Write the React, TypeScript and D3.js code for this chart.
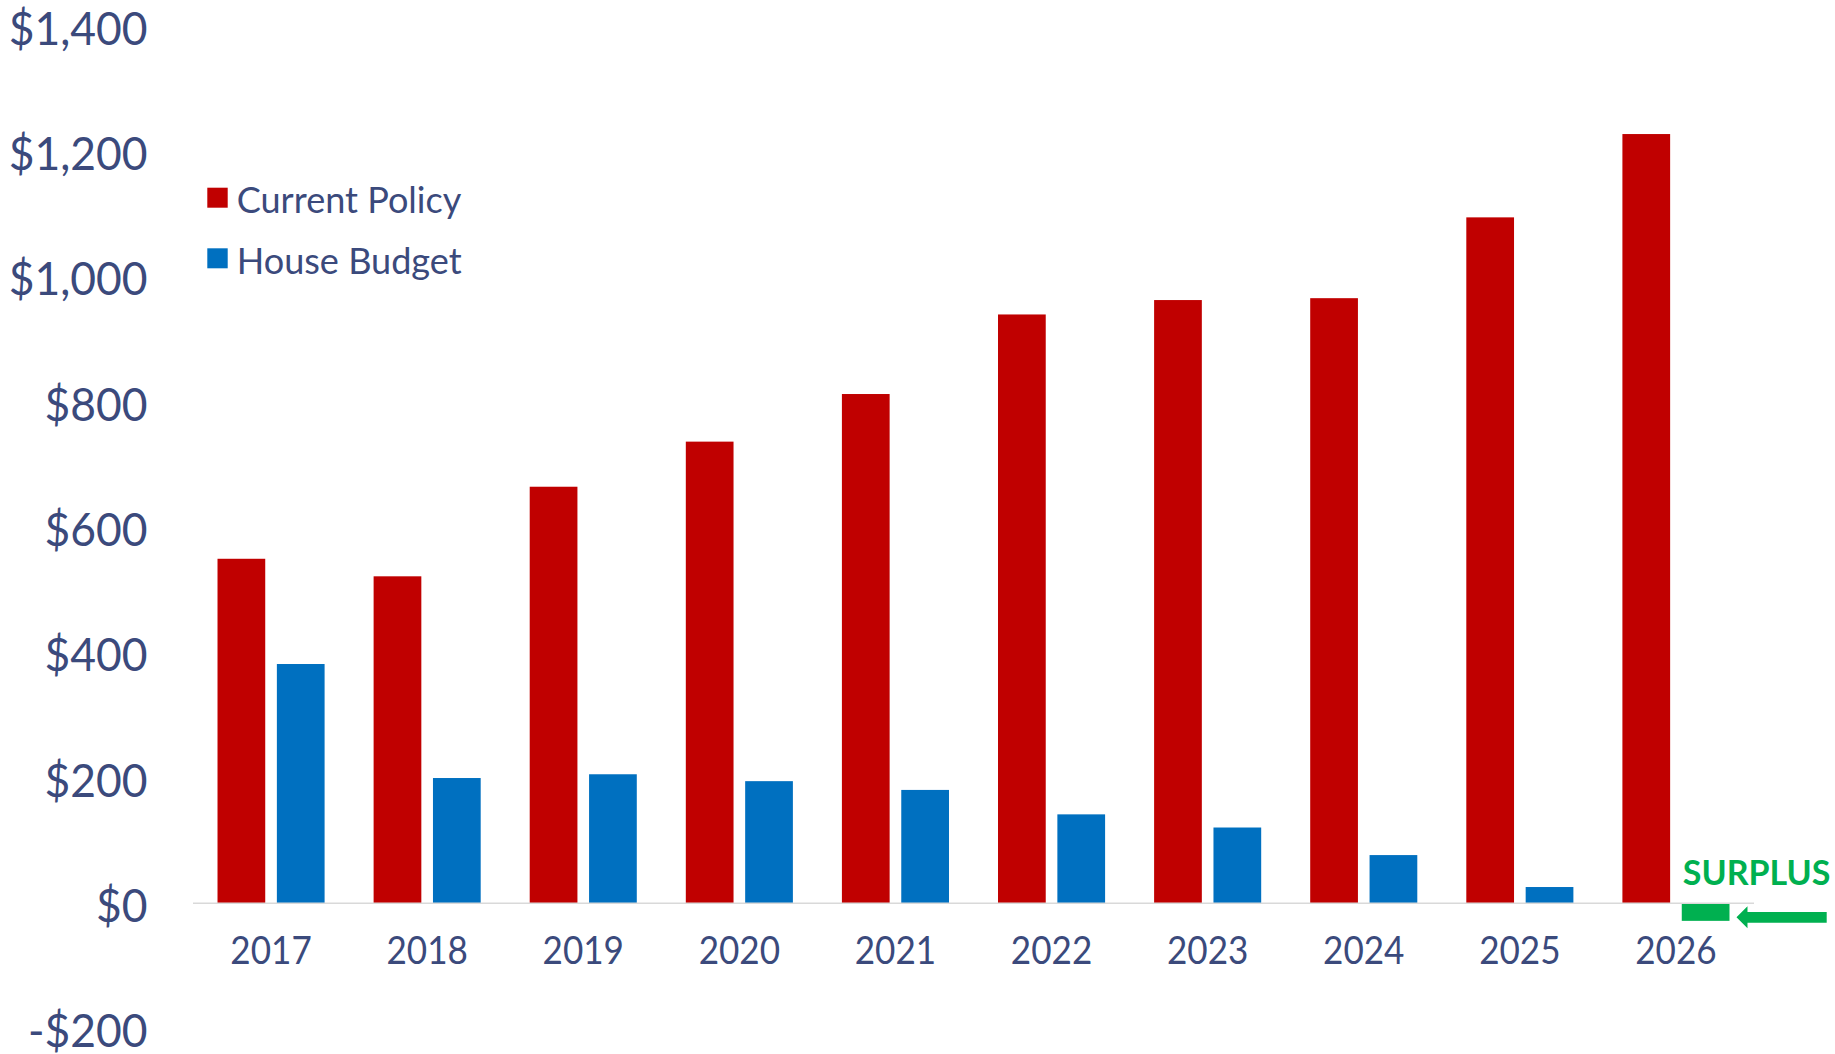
import React from "react";
import * as d3 from "d3";

const years = ["2017", "2018", "2019", "2020", "2021", "2022", "2023", "2024", "2025", "2026"];
const currentPolicy = [550, 522, 665, 737, 813, 940, 963, 966, 1095, 1228];
const houseBudget = [382, 200, 206, 195, 181, 142, 121, 77, 26, -28];
const yTicks = [-200, 0, 200, 400, 600, 800, 1000, 1200, 1400];
const seriesNames = ["Current Policy", "House Budget"];

const W = 1835;
const H = 1054;
const RED = "#C00000";
const BLUE = "#0070C0";
const GREEN = "#00B050";
const TEXT = "#3b4a7c";
const FONT = "Lato, 'Open Sans', sans-serif";

function SText(props: {
  x: number; y: number; size: number; anchor?: string; weight?: string | number;
  fill?: string; sx: number; children: React.ReactNode;
}) {
  const { x, y, size, anchor = "start", weight = "normal", fill = TEXT, sx, children } = props;
  return (
    <text
      transform={`translate(${x},${y}) scale(${sx},1)`}
      textAnchor={anchor as any}
      fontSize={size}
      fontWeight={weight as any}
      fill={fill}
      fontFamily={FONT}
    >
      {children}
    </text>
  );
}

export default function App() {
  const y = d3.scaleLinear().domain([-200, 1400]).range([1028.6, 26.3]);
  const x = d3.scaleBand<string>().domain(years).range([193, 1754]).paddingInner(0.314).paddingOuter(0.157);
  const sub = d3.scaleBand<string>().domain(["cp", "hb"]).range([0, x.bandwidth()]).paddingInner(0.196);
  const fmt = (d: number) => (d < 0 ? "-" : "") + "$" + d3.format(",")(Math.abs(d));
  const y0 = y(0);

  const lastYear = years[years.length - 1];
  const lastHB = houseBudget[houseBudget.length - 1];
  const gRight = (x(lastYear) as number) + (sub("hb") as number) + sub.bandwidth();
  const gLeft = (x(lastYear) as number) + (sub("hb") as number);
  const arrowTip = gRight + 7;
  const arrowY = y0 + (y(lastHB) - y0) * 0.8;
  const shaftH = 10.6;
  const headH = 22;
  const headL = 11;
  const arrowEnd = 1826.7;
  const arrowPath = [
    [arrowTip, arrowY],
    [arrowTip + headL, arrowY - headH / 2],
    [arrowTip + headL, arrowY - shaftH / 2],
    [arrowEnd, arrowY - shaftH / 2],
    [arrowEnd, arrowY + shaftH / 2],
    [arrowTip + headL, arrowY + shaftH / 2],
    [arrowTip + headL, arrowY + headH / 2],
  ];
  const arrowD = d3.line()(arrowPath as [number, number][]) + "Z";

  return (
    <svg width={W} height={H} style={{ position: "absolute", left: 0, top: 0, display: "block", background: "#fff" }}>
      {/* y tick labels */}
      {yTicks.map((t) => (
        <SText key={t} x={147.5} y={y(t) + 18.5} size={47} anchor="end" sx={0.945}>
          {fmt(t)}
        </SText>
      ))}

      {/* bars */}
      {years.map((yr, i) => {
        const bx = x(yr) as number;
        const cp = currentPolicy[i];
        const hb = houseBudget[i];
        return (
          <g key={yr}>
            <rect
              x={bx + (sub("cp") as number)}
              y={Math.min(y(cp), y0)}
              width={sub.bandwidth()}
              height={Math.abs(y(cp) - y0)}
              fill={RED}
            />
            <rect
              x={bx + (sub("hb") as number)}
              y={Math.min(y(hb), y0)}
              width={sub.bandwidth()}
              height={Math.abs(y(hb) - y0)}
              fill={hb < 0 ? GREEN : BLUE}
            />
          </g>
        );
      })}

      {/* zero axis line */}
      <line x1={193} x2={1754} y1={y0} y2={y0} stroke="#d9d9d9" strokeWidth={1.6} />

      {/* x labels */}
      {years.map((yr) => (
        <SText key={yr} x={(x(yr) as number) + x.bandwidth() / 2} y={964} size={39} anchor="middle" sx={0.9}>
          {yr}
        </SText>
      ))}

      {/* legend */}
      <rect x={207.3} y={187.7} width={20.4} height={20} fill={RED} />
      <SText x={236.7} y={213.3} size={37} sx={0.975}>{seriesNames[0]}</SText>
      <rect x={207.3} y={248.3} width={20.4} height={20} fill={BLUE} />
      <SText x={236.7} y={274} size={37} sx={0.975}>{seriesNames[1]}</SText>

      {/* surplus annotation */}
      <SText x={gLeft + 1} y={885} size={34} weight={700} fill={GREEN} sx={1.0}>SURPLUS</SText>
      <path d={arrowD} fill={GREEN} />
    </svg>
  );
}
